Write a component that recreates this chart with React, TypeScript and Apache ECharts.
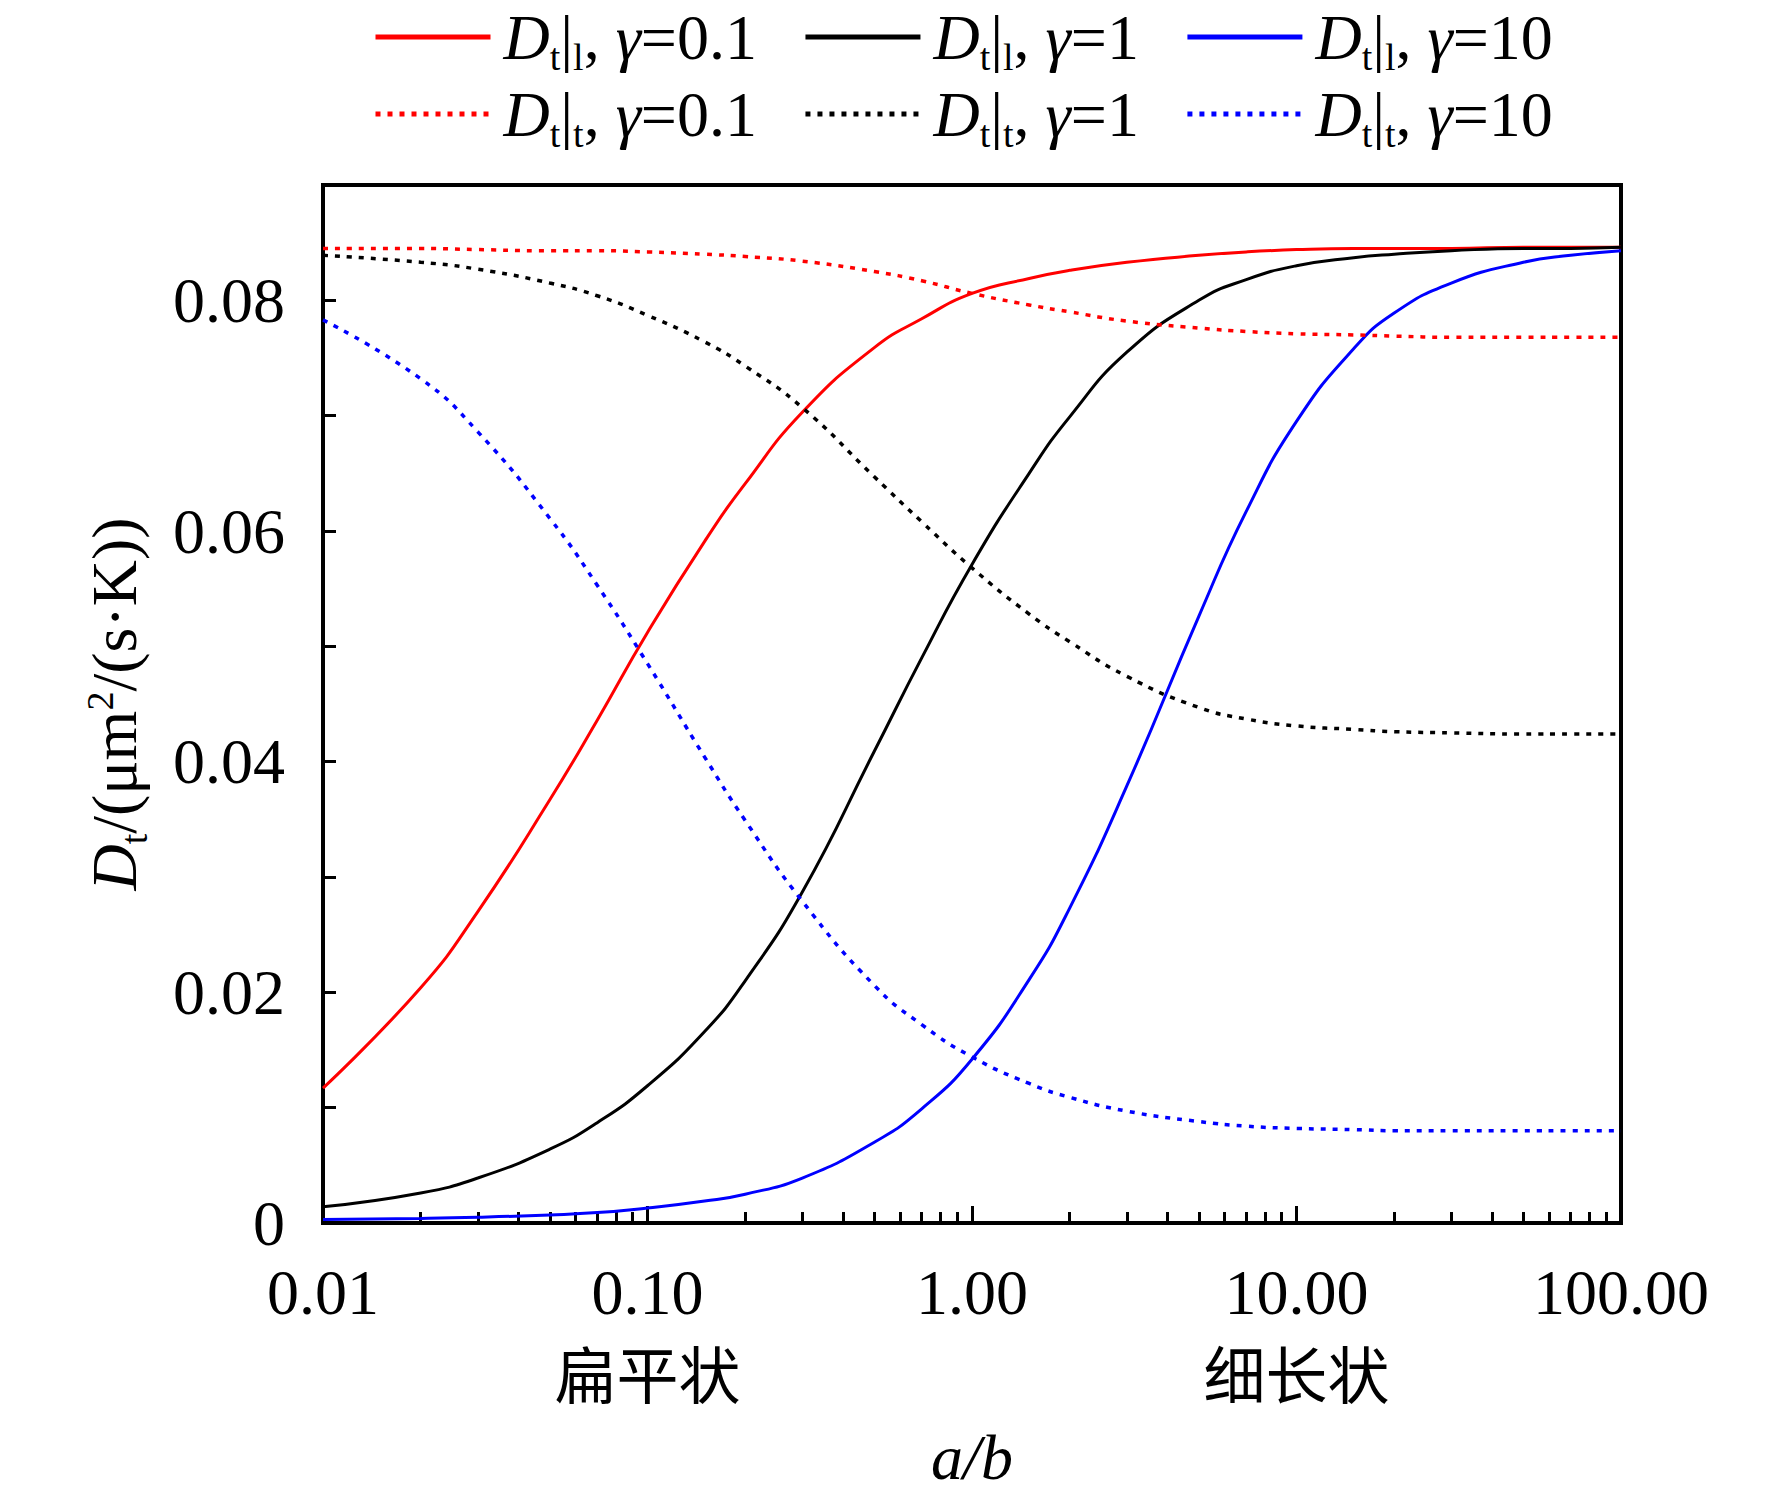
import { useEffect, useRef } from 'react'

import * as echarts from 'echarts'

// a/b sample points
const aspectRatios = [
  0.01, 0.02, 0.03, 0.05, 0.07, 0.1, 0.15, 0.2, 0.3, 0.5, 0.7, 1, 1.5, 2, 3, 5, 7, 10, 15, 20, 30, 50, 70, 100,
]

// D_t|l (solid)
const longRed = [
  0.0117, 0.0204, 0.027, 0.0367, 0.0436, 0.0512, 0.0591, 0.0641, 0.0703, 0.0759, 0.0784, 0.0806, 0.0819, 0.0826,
  0.0833, 0.0839, 0.0842, 0.0844, 0.0845, 0.0845, 0.0845, 0.0846, 0.0846, 0.0846,
]
const longBlack = [
  0.0014, 0.0026, 0.0039, 0.0064, 0.0087, 0.0119, 0.0166, 0.021, 0.0287, 0.0409, 0.049, 0.0571, 0.065, 0.0699,
  0.0755, 0.08, 0.0818, 0.083, 0.0837, 0.084, 0.0843, 0.0845, 0.0845, 0.0846,
]
const longBlue = [
  0.0003, 0.0004, 0.0005, 0.0007, 0.0009, 0.0013, 0.0019, 0.0025, 0.0039, 0.007, 0.0099, 0.0142, 0.0211, 0.0273,
  0.0379, 0.0526, 0.0617, 0.0695, 0.0758, 0.0789, 0.0815, 0.0833, 0.0839, 0.0843,
]

// D_t|t (dotted)
const transRed = [
  0.0845, 0.0845, 0.0844, 0.0843, 0.0843, 0.0842, 0.084, 0.0838, 0.0834, 0.0825, 0.0817, 0.0806, 0.0796, 0.079,
  0.0782, 0.0776, 0.0773, 0.0771, 0.077, 0.0769, 0.0768, 0.0768, 0.0768, 0.0768,
]
const transBlack = [
  0.0839, 0.0833, 0.0827, 0.0815, 0.0804, 0.0787, 0.0764, 0.0743, 0.0707, 0.0647, 0.0608, 0.0568, 0.0528, 0.0504,
  0.0474, 0.0447, 0.0437, 0.0431, 0.0428, 0.0426, 0.0425, 0.0424, 0.0424, 0.0424,
]
const transBlue = [
  0.0783, 0.0732, 0.0686, 0.0611, 0.0553, 0.0485, 0.0404, 0.0349, 0.0279, 0.0206, 0.0172, 0.0144, 0.0121, 0.0109,
  0.0097, 0.0088, 0.0084, 0.0082, 0.0081, 0.008, 0.008, 0.008, 0.008, 0.008,
]

const gammaLabels = ['0.1', '1', '10']
const lineColors = ['#ff0000', '#000000', '#0000ff']
const longValues = [longRed, longBlack, longBlue]
const transValues = [transRed, transBlack, transBlue]

const xMajorTicks = [0.01, 0.1, 1, 10, 100]
const xMinorTicks = [
  0.02, 0.03, 0.04, 0.05, 0.06, 0.07, 0.08, 0.09, 0.2, 0.3, 0.4, 0.5, 0.6, 0.7, 0.8, 0.9, 2, 3, 4, 5, 6, 7, 8, 9, 20,
  30, 40, 50, 60, 70, 80, 90,
]
const yLabelValues = [0, 0.02, 0.04, 0.06, 0.08]
const shapeValues = [0.1, 10]
const shapeLabels = ['扁平状', '细长状']

const SERIF = "'Liberation Serif', 'Times New Roman', serif"
const CJK = "'Noto Sans CJK SC', sans-serif"

const richText = {
  d: { fontFamily: SERIF, fontStyle: 'italic', fontSize: 64, lineHeight: 78, color: '#000' },
  n: { fontFamily: SERIF, fontSize: 64, lineHeight: 78, color: '#000' },
  g: { fontFamily: SERIF, fontStyle: 'italic', fontSize: 64, lineHeight: 78, color: '#000' },
  s: {
    fontFamily: SERIF,
    fontSize: 38,
    lineHeight: 38,
    padding: [40, 0, 0, 0],
    verticalAlign: 'bottom',
    color: '#000',
  },
  p: {
    fontFamily: SERIF,
    fontSize: 38,
    lineHeight: 38,
    padding: [6, 0, 0, 0],
    verticalAlign: 'top',
    color: '#000',
  },
}

const seriesName = (kind: string, g: string) => `D${kind}, γ=${g}`

const legendLabel = (name: string) => {
  const kind = name.charAt(1)
  const g = name.split('=')[1]
  return `{d|D}{s|t}{n||}{s|${kind}}{n|, }{g|γ}{n|=${g}}`
}

export default function App() {
  const main = useRef<HTMLDivElement>(null)
  useEffect(() => {
    document.body.style.margin = '0'
    const series: any[] = []
    gammaLabels.forEach((g, i) => {
      series.push({
        name: seriesName('l', g),
        type: 'line',
        xAxisIndex: 0,
        symbol: 'none',
        smooth: true,
        lineStyle: { color: lineColors[i], width: 3, type: 'solid' },
        itemStyle: { color: lineColors[i] },
        data: aspectRatios.map((x, k) => [x, longValues[i][k]]),
      })
    })
    gammaLabels.forEach((g, i) => {
      series.push({
        name: seriesName('t', g),
        type: 'line',
        xAxisIndex: 0,
        symbol: 'none',
        smooth: true,
        lineStyle: { color: lineColors[i], width: 3.5, type: [5, 7] },
        itemStyle: { color: lineColors[i] },
        data: aspectRatios.map((x, k) => [x, transValues[i][k]]),
      })
    })

    const legendBase = {
      orient: 'horizontal',
      left: 373,
      padding: 0,
      itemWidth: 115,
      itemHeight: 14,
      itemGap: 46,
      formatter: legendLabel,
      textStyle: { color: '#000', rich: { ...richText, d: { ...richText.d, padding: [0, 0, 0, 8] } } },
      lineStyle: { width: 5 },
      itemStyle: { opacity: 0 },
      selectedMode: false,
    }

    const logBase = {
      type: 'log',
      logBase: 10,
      min: 0.01,
      max: 100,
      position: 'bottom',
      splitLine: { show: false },
    }

    const option = {
      animation: false,
      backgroundColor: '#fff',
      legend: [
        { ...legendBase, top: -2, data: gammaLabels.map((g) => seriesName('l', g)) },
        { ...legendBase, top: 75, data: gammaLabels.map((g) => seriesName('t', g)) },
      ],
      grid: {
        left: 323,
        right: 151,
        top: 185,
        bottom: 272,
        show: true,
        borderColor: '#000',
        borderWidth: 4,
        backgroundColor: 'transparent',
        outerBoundsMode: 'none',
      },
      xAxis: [
        {
          ...logBase,
          axisLine: { lineStyle: { color: '#000', width: 4 } },
          axisTick: { inside: true, length: 17, customValues: xMajorTicks, lineStyle: { color: '#000', width: 3 } },
          axisLabel: {
            customValues: xMajorTicks,
            formatter: (v: number) => Number(v).toFixed(2),
            fontFamily: SERIF,
            fontSize: 64,
            color: '#000',
            margin: 37,
          },
          name: 'a/b',
          nameLocation: 'middle',
          nameGap: 202,
          nameTextStyle: { fontFamily: SERIF, fontStyle: 'italic', fontSize: 64, color: '#000' },
        },
        {
          ...logBase,
          axisLine: { show: false },
          axisTick: { inside: true, length: 11, customValues: xMinorTicks, lineStyle: { color: '#000', width: 3 } },
          axisLabel: { show: false },
        },
        {
          ...logBase,
          axisLine: { show: false },
          axisTick: { show: false },
          axisLabel: {
            customValues: shapeValues,
            formatter: (v: number) => {
              let best = 0
              shapeValues.forEach((s, i) => {
                if (Math.abs(Math.log10(s) - Math.log10(v)) < Math.abs(Math.log10(shapeValues[best]) - Math.log10(v)))
                  best = i
              })
              return shapeLabels[best]
            },
            fontFamily: CJK,
            fontSize: 62,
            color: '#000',
            margin: 118,
          },
        },
      ],
      yAxis: {
        type: 'value',
        min: 0,
        max: 0.09,
        interval: 0.01,
        splitLine: { show: false },
        axisLine: { show: true, lineStyle: { color: '#000', width: 4 } },
        axisTick: { show: true, inside: true, length: 13, lineStyle: { color: '#000', width: 3 } },
        axisLabel: {
          customValues: yLabelValues,
          formatter: (v: number) => (v === 0 ? '0' : Number(v).toFixed(2)),
          fontFamily: SERIF,
          fontSize: 64,
          color: '#000',
          margin: 38,
        },
        name: '{d|D}{s|t}{n|/(μm}{p|2}{n|/(s·K))}',
        nameLocation: 'middle',
        nameGap: 170,
        nameTextStyle: { rich: richText },
      },
      series,
    }
    const chart = echarts.init(main.current, null, { renderer: 'svg' })
    chart.setOption(option as any)
    return () => {
      chart.dispose()
    }
  }, [])
  return <div ref={main} style={{ width: '1772px', height: '1495px' }}></div>
}
